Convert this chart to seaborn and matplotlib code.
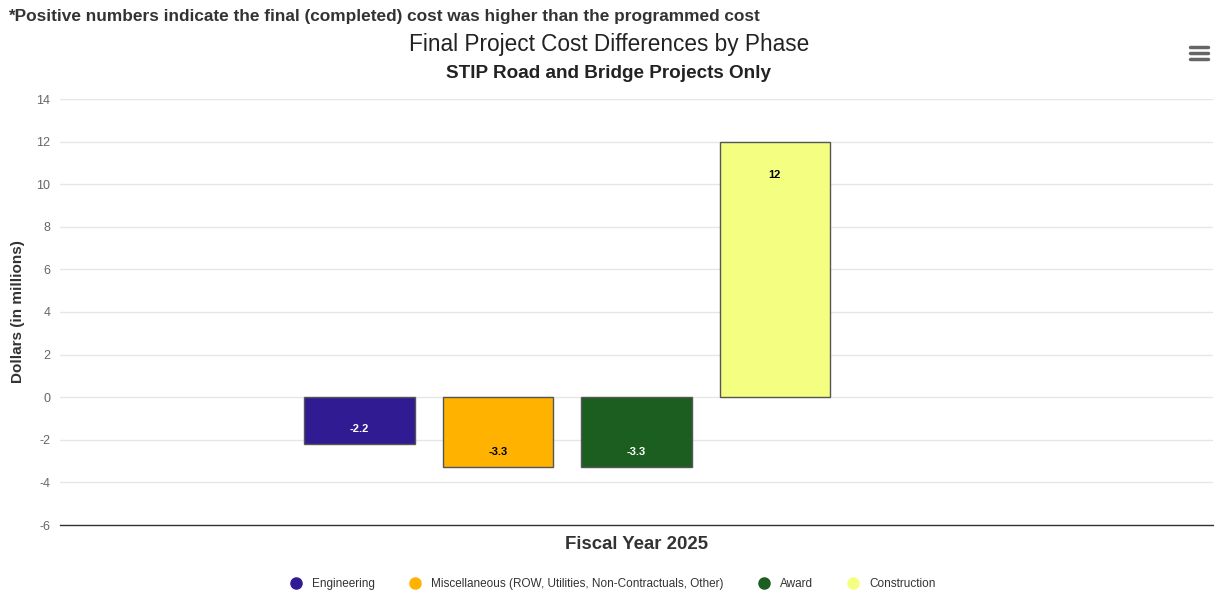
import matplotlib
matplotlib.use("Agg")
import matplotlib.pyplot as plt
import seaborn as sns
import pandas as pd
import numpy as np
from matplotlib.lines import Line2D

categories = ["Fiscal Year 2025"]
phases = ["Engineering", "Miscellaneous (ROW, Utilities, Non-Contractuals, Other)", "Award", "Construction"]
values = [-2.2, -3.3, -3.3, 12.0]
colors = ["#311B92", "#FFB300", "#1B5E20", "#F4FF81"]
label_colors = ["#ffffff", "#000000", "#ffffff", "#000000"]
yticks = [-6, -4, -2, 0, 2, 4, 6, 8, 10, 12, 14]

sns.set_theme(style="white")
plt.rcParams['font.family'] = ['Liberation Sans', 'DejaVu Sans']

# A fifth (empty) slot is reserved in the group, as in the original chart
hue_order = phases + [" "]
df = pd.DataFrame({
    "year": categories * len(hue_order),
    "phase": hue_order,
    "value": values + [np.nan],
})
palette = dict(zip(hue_order, colors + ["#ffffff"]))

fig = plt.figure(figsize=(12.14, 5.92), dpi=100)
ax = fig.add_axes([60/1214, 1-525/592, (1213-60)/1214, (525-99)/592])

sns.barplot(data=df, x="year", y="value", hue="phase", hue_order=hue_order,
            palette=palette, width=0.6, gap=0.2, saturation=1, ax=ax,
            edgecolor="#555555", linewidth=1, legend=False, errorbar=None)

ax.set_ylim(-6, 14)
ax.set_xlim(-0.5, 0.5)
ax.set_yticks(yticks)
ax.set_yticklabels([str(t) for t in yticks], color="#666666", fontsize=9)
ax.tick_params(axis="y", length=0, pad=7)
ax.tick_params(axis="x", length=0, labelbottom=False)
ax.grid(axis="y", color="#e6e6e6", linewidth=1)
ax.set_axisbelow(True)
for s in ["top", "right", "left"]:
    ax.spines[s].set_visible(False)
ax.spines["bottom"].set_color("#333333")
ax.spines["bottom"].set_linewidth(1)

ax.set_xlabel("Fiscal Year 2025", fontsize=13.4, color="#333333", fontweight="bold", labelpad=8)
ax.set_ylabel("Dollars (in millions)", fontsize=11, color="#333333", fontweight="bold", labelpad=8)

# data labels
patches = [p for p in ax.patches if np.isfinite(p.get_height()) and p.get_height() != 0]
for p, v, lc in zip(patches, values, label_colors):
    xc = p.get_x() + p.get_width() / 2
    if v >= 0:
        off = -33
    else:
        hpx = abs(v) * 426 / 20
        off = min(15, hpx / 2 - 2)
    ax.annotate(f"{v:g}", (xc, v), xytext=(0, off), textcoords="offset pixels",
                ha="center", va="center", fontsize=8, fontweight="bold", color=lc)

# titles
fig.text(609/1214, 1-44/592, "Final Project Cost Differences by Phase", ha="center", va="center",
         fontsize=16.3, color="#222222")
fig.text(609/1214, 1-73/592, "STIP Road and Bridge Projects Only", ha="center", va="center",
         fontsize=13.6, color="#222222", fontweight="bold")
fig.text(8/1214, 1-17/592, "*Positive numbers indicate the final (completed) cost was higher than the programmed cost",
         ha="left", va="center", fontsize=12.4, color="#333333", fontweight="bold")

# hamburger menu icon
for yy in [47, 53, 59]:
    fig.add_artist(Line2D([1190/1214, 1208/1214], [1-yy/592, 1-yy/592], color="#666666",
                          linewidth=2.5, solid_capstyle="round"))

# legend
handles = [Line2D([0], [0], marker="o", linestyle="", markersize=8, markerfacecolor=c,
                  markeredgecolor=c) for c in colors]
fig.legend(handles, phases, loc="center", bbox_to_anchor=(610/1214, 1-584/592), ncol=4,
           frameon=False, fontsize=8.5, labelcolor="#333333", handletextpad=0.35, columnspacing=2.4)

fig.savefig("out.png", dpi=100)
